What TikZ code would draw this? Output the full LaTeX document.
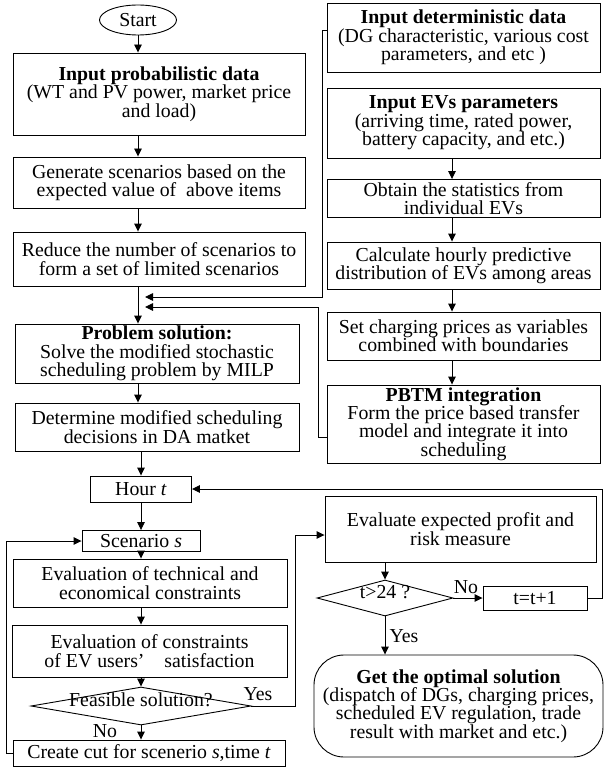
\documentclass[tikz,border=0pt]{standalone}
\usepackage{fontspec}
\setmainfont{Liberation Serif}
\usetikzlibrary{arrows.meta,shapes.geometric}
\tikzset{
  box/.style={draw, line width=0.9pt, inner sep=0pt, align=center, anchor=center},
  startshape/.style={draw, ellipse, line width=0.9pt, inner sep=0pt, anchor=center},
  decision/.style={draw, diamond, line width=0.9pt, inner sep=0pt, anchor=center},
  endshape/.style={draw, line width=0.9pt, inner sep=0pt, align=center, anchor=center, rounded corners=30pt},
  arr/.style={line width=0.9pt, -{Triangle[length=8pt,width=7.5pt]}},
  conn/.style={line width=0.9pt},
  lbl/.style={inner sep=0pt, anchor=center},
  every node/.style={font=\fontsize{19.8}{18.4}\selectfont}
}
\begin{document}
\begin{tikzpicture}[x=1pt,y=-1pt]
\useasboundingbox (0,0) rectangle (605,770);

% main (left) column
\node[startshape, minimum width=77pt, minimum height=30pt] (start) at (138,20) {Start};
\node[box, minimum width=292pt, minimum height=82pt] (in1) at (159,94)
  {\textbf{Input probabilistic data}\\(WT and PV power, market price\\and load)};
\node[box, minimum width=292pt, minimum height=51pt] (gen) at (159,182.5)
  {Generate scenarios based on the\\expected value of\ \ above items};
\node[box, minimum width=292pt, minimum height=54pt] (red) at (159,259)
  {Reduce the number of scenarios to\\form a set of limited scenarios};
\node[box, minimum width=284pt, minimum height=59pt] (prob) at (157,353.5)
  {\textbf{Problem solution:}\\Solve the modified stochastic\\scheduling problem by MILP};
\node[box, minimum width=284pt, minimum height=48pt] (dec) at (157,427)
  {Determine modified scheduling\\decisions in DA matket};
\node[box, minimum width=101pt, minimum height=26pt] (hour) at (141,489) {Hour \textit{t}};
\node[box, minimum width=118pt, minimum height=21pt] (scen) at (141,541) {Scenario \textit{s}};
\node[box, minimum width=274pt, minimum height=48pt] (evt) at (150,583)
  {Evaluation of technical and\\economical constraints};
\node[box, minimum width=275pt, minimum height=52pt] (evc) at (149.5,651)
  {Evaluation of constraints\\of EV users’\hspace{1em}satisfaction};
\node[decision, minimum width=220pt, minimum height=38pt] (feas) at (141,706)
  {\smash{\makebox[0pt]{Feasible solution?}}};
\node[box, minimum width=272pt, minimum height=26pt] (cut) at (149,753)
  {Create cut for scenerio \textit{s},time \textit{t}};

% right column
\node[box, minimum width=273pt, minimum height=69pt] (in2) at (463.5,37.5)
  {\textbf{Input deterministic data}\\(DG characteristic, various cost\\parameters, and etc )};
\node[box, minimum width=273pt, minimum height=70pt] (ev) at (463.5,123)
  {\textbf{Input EVs parameters}\\(arriving time, rated power,\\battery capacity, and etc.)};
\node[box, minimum width=273pt, minimum height=38pt] (obt) at (463.5,198.5)
  {Obtain the statistics from\\individual EVs};
\node[box, minimum width=273pt, minimum height=47pt] (calc) at (463.5,265.5)
  {Calculate hourly predictive\\distribution of EVs among areas};
\node[box, minimum width=273pt, minimum height=48pt] (setp) at (463.5,336)
  {Set charging prices as variables\\combined with boundaries};
\node[box, minimum width=273pt, minimum height=78pt] (pbtm) at (463.5,424)
  {\textbf{PBTM integration}\\Form the price based transfer\\model and integrate it into\\scheduling};

% lower right
\node[box, minimum width=271pt, minimum height=66pt] (evp) at (460.5,529)
  {Evaluate expected profit and\\risk measure};
\node[decision, minimum width=136pt, minimum height=36pt] (t24) at (385,598)
  {\smash{\makebox[0pt]{t>24 ?}}};
\node[box, minimum width=104pt, minimum height=24pt] (tplus) at (535,598) {t=t+1};
\node[endshape, minimum width=289pt, minimum height=102pt] (opt) at (458.5,706)
  {\textbf{Get the optimal solution}\\(dispatch of DGs, charging prices,\\scheduled EV regulation, trade\\result with market and etc.)};

% labels
\node[lbl] (yes1) at (258,694) {Yes};
\node[lbl] (no1) at (105,731) {No};
\node[lbl] (no2) at (466,587) {No};
\node[lbl] (yes2) at (404,636) {Yes};

% helper coordinates
\coordinate (mx) at (138,0);
\coordinate (rx) at (452,0);
\coordinate (j1) at (322,297);
\coordinate (t1) at (145,297);
\coordinate (j2) at (318,307);
\coordinate (t2) at (145,307);
\coordinate (j3) at (295,535);
\coordinate (j4) at (6,541);
\coordinate (j5) at (602,489);

% main column connectors
\draw[arr] (start.south) -- (start.south |- in1.north);
\draw[arr] (in1.south -| mx) -- (gen.north -| mx);
\draw[arr] (gen.south -| mx) -- (red.north -| mx);
\draw[arr] (red.south -| mx) -- (prob.north -| mx);
\draw[arr] (prob.south -| mx) -- (dec.north -| mx);
\draw[arr] (dec.south -| hour) -- (hour.north);
\draw[arr] (hour.south) -- (scen.north);
\draw[arr] (scen.south) -- (scen.south |- evt.north);
\draw[arr] (evt.south -| scen) -- (evc.north -| scen);
\draw[arr] (evc.south -| feas) -- (feas.north);
\draw[arr] (feas.south) -- (feas.south |- cut.north);

% right column connectors
\draw[arr] (ev.south -| rx) -- (obt.north -| rx);
\draw[arr] (obt.south -| rx) -- (calc.north -| rx);
\draw[arr] (calc.south -| rx) -- (setp.north -| rx);
\draw[arr] (setp.south -| rx) -- (pbtm.north -| rx);

% feed-ins to main line
\draw[arr] ([yshift=-28pt]in2.north west) -| (j1) -- (t1);
\draw[arr] ([yshift=26pt]pbtm.south west) -| (j2) -- (t2);

% loops
\draw[arr] (cut.west) -| (j4) -- (scen.west);
\draw[arr] (feas.east) -| (j3) -- (j3 -| evp.west);
\draw[arr] (evp.south -| t24) -- (t24.north);
\draw[arr] (t24.east) -- (tplus.west);
\draw[arr] (t24.south) -- (t24.south |- opt.north);
\draw[arr] (tplus.east) -| (j5) -- (hour.east);
\end{tikzpicture}
\end{document}
